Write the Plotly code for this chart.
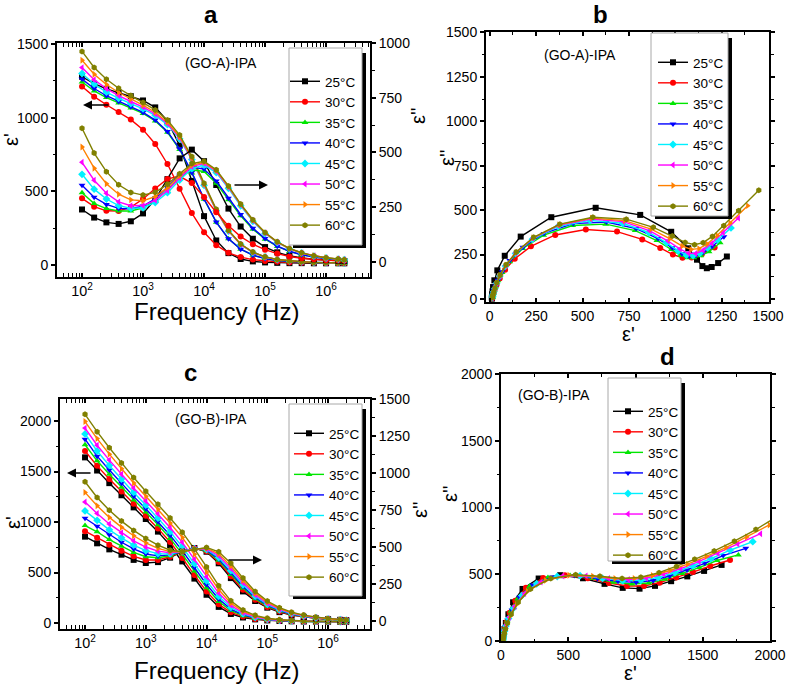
import plotly.graph_objects as go

W, H = 787, 684
FONT = "Liberation Sans, Arial, sans-serif"

FREQ = [100, 158, 251, 398, 631, 1000, 1585, 2512, 3981, 6310, 10000, 15849, 25119,
        39811, 63096, 100000, 158489, 251189, 398107, 630957, 1000000, 1584893, 1995262]

TEMP_LABELS = ["25°C", "30°C", "35°C", "40°C", "45°C", "50°C", "55°C", "60°C"]
COLORS = ["#000000", "#FF0000", "#00E600", "#0000FF", "#00F0FF", "#FF00FF", "#FF8000", "#808000"]
SYMBOLS = ["square", "circle", "triangle-up", "triangle-down", "diamond",
           "triangle-left", "triangle-right", "hexagon"]

# ---- (GO-A)-IPA : real permittivity eps' ----
A1_25 = [1278, 1231, 1196, 1170, 1146, 1117, 1070, 978, 811, 571, 332, 167, 81, 41, 25, 18, 15, 13, 13, 12, 12, 12, 12]
A1_30 = [1212, 1143, 1088, 1039, 987, 919, 822, 686, 518, 353, 222, 135, 83, 54, 37, 27, 22, 18, 16, 15, 14, 13, 13]
A1_35 = [1242, 1182, 1137, 1100, 1066, 1029, 978, 901, 784, 625, 447, 291, 178, 108, 67, 44, 31, 24, 20, 17, 15, 14, 14]
A1_40 = [1262, 1198, 1149, 1110, 1075, 1036, 984, 907, 789, 629, 450, 292, 179, 108, 67, 44, 31, 24, 20, 17, 15, 14, 14]
A1_45 = [1300, 1228, 1174, 1132, 1096, 1060, 1016, 953, 857, 716, 541, 368, 230, 139, 85, 55, 37, 28, 22, 18, 16, 15, 14]
A1_50 = [1340, 1258, 1197, 1150, 1110, 1072, 1026, 961, 863, 721, 545, 370, 232, 140, 86, 55, 37, 28, 22, 18, 16, 15, 14]
A1_55 = [1390, 1295, 1225, 1171, 1127, 1085, 1037, 970, 870, 727, 549, 374, 234, 142, 87, 55, 38, 28, 22, 18, 16, 15, 14]
A1_60 = [1450, 1341, 1261, 1200, 1150, 1104, 1053, 984, 882, 736, 556, 378, 237, 143, 88, 56, 38, 28, 22, 18, 16, 14, 14]

# ---- (GO-A)-IPA : imaginary permittivity eps'' ----
A2_25 = [239, 202, 180, 173, 185, 221, 285, 378, 473, 513, 460, 351, 243, 161, 105, 67, 43, 27, 17, 11, 7, 4, 3]
A2_30 = [290, 252, 233, 232, 250, 287, 335, 379, 391, 360, 296, 226, 164, 115, 80, 55, 37, 24, 16, 11, 7, 5, 4]
A2_35 = [316, 266, 243, 232, 232, 246, 279, 329, 385, 421, 413, 359, 284, 210, 149, 103, 70, 47, 31, 21, 14, 9, 7]
A2_40 = [350, 295, 262, 244, 241, 255, 288, 340, 396, 433, 424, 369, 291, 216, 153, 106, 71, 48, 32, 21, 14, 9, 7]
A2_45 = [400, 332, 287, 257, 244, 247, 271, 316, 374, 426, 442, 408, 336, 256, 185, 129, 88, 59, 40, 26, 17, 12, 9]
A2_50 = [455, 373, 313, 274, 256, 257, 281, 326, 383, 435, 450, 414, 341, 260, 188, 131, 89, 60, 40, 27, 17, 12, 9]
A2_55 = [525, 428, 357, 309, 283, 279, 298, 339, 393, 441, 455, 418, 344, 262, 190, 133, 90, 60, 40, 27, 18, 12, 9]
A2_60 = [611, 497, 412, 352, 317, 305, 318, 354, 403, 449, 460, 421, 347, 264, 192, 134, 91, 61, 41, 27, 18, 12, 9]

# ---- (GO-B)-IPA : real permittivity eps' ----
B1_25 = [1640, 1510, 1385, 1265, 1145, 1030, 905, 770, 610, 440, 280, 160, 90, 55, 36, 26, 20, 17, 15, 14, 13, 12, 12]
B1_30 = [1703, 1556, 1427, 1303, 1180, 1063, 937, 802, 645, 475, 313, 185, 106, 64, 41, 29, 22, 18, 16, 14, 13, 12, 12]
B1_35 = [1765, 1606, 1473, 1345, 1219, 1099, 973, 838, 683, 514, 349, 213, 123, 73, 46, 32, 23, 19, 16, 15, 14, 13, 12]
B1_40 = [1820, 1652, 1515, 1383, 1254, 1132, 1005, 870, 717, 549, 382, 238, 138, 82, 51, 34, 25, 20, 17, 15, 14, 13, 12]
B1_45 = [1872, 1703, 1560, 1425, 1293, 1168, 1040, 905, 755, 588, 418, 265, 155, 92, 56, 37, 27, 21, 18, 16, 14, 13, 13]
B1_50 = [1930, 1760, 1613, 1473, 1337, 1209, 1081, 946, 799, 632, 459, 297, 175, 102, 62, 40, 28, 22, 18, 16, 14, 13, 13]
B1_55 = [1995, 1826, 1672, 1527, 1387, 1256, 1126, 991, 848, 682, 506, 332, 197, 115, 69, 44, 31, 24, 19, 16, 15, 14, 13]
B1_60 = [2066, 1895, 1735, 1585, 1440, 1305, 1175, 1040, 900, 735, 555, 370, 220, 128, 76, 48, 33, 25, 20, 17, 15, 14, 13]

# ---- (GO-B)-IPA : imaginary permittivity eps'' ----
B2_25 = [570, 525, 484, 448, 413, 392, 398, 428, 470, 493, 468, 390, 290, 200, 135, 90, 60, 40, 27, 18, 12, 8, 6]
B2_30 = [607, 562, 516, 475, 437, 412, 412, 434, 470, 492, 471, 399, 302, 211, 143, 95, 64, 42, 29, 19, 12, 8, 6]
B2_35 = [645, 603, 550, 505, 463, 434, 427, 441, 470, 491, 475, 410, 315, 223, 151, 101, 68, 45, 30, 20, 13, 8, 6]
B2_40 = [694, 640, 582, 532, 487, 453, 440, 447, 469, 490, 479, 419, 327, 233, 159, 107, 71, 47, 32, 21, 13, 8, 6]
B2_45 = [744, 680, 616, 562, 513, 475, 455, 453, 469, 489, 483, 429, 340, 245, 168, 113, 75, 50, 34, 22, 14, 9, 6]
B2_50 = [804, 727, 656, 596, 542, 500, 472, 461, 469, 488, 487, 441, 355, 259, 177, 119, 80, 53, 35, 23, 15, 9, 6]
B2_55 = [869, 779, 700, 634, 576, 528, 491, 469, 468, 486, 492, 454, 372, 274, 188, 127, 85, 56, 38, 25, 15, 9, 6]
B2_60 = [941, 835, 748, 675, 612, 558, 512, 478, 468, 485, 497, 468, 390, 290, 200, 135, 90, 60, 40, 26, 16, 9, 6]

A_EPS1 = [A1_25, A1_30, A1_35, A1_40, A1_45, A1_50, A1_55, A1_60]
A_EPS2 = [A2_25, A2_30, A2_35, A2_40, A2_45, A2_50, A2_55, A2_60]
B_EPS1 = [B1_25, B1_30, B1_35, B1_40, B1_45, B1_50, B1_55, B1_60]
B_EPS2 = [B2_25, B2_30, B2_35, B2_40, B2_45, B2_50, B2_55, B2_60]


def px(xp):
    return xp / W


def py(yp):
    return 1 - yp / H


fig = go.Figure()


def add_series(xs, ys, i, xa, ya, legend, show):
    fig.add_trace(go.Scatter(
        x=xs, y=ys, mode="lines+markers", xaxis=xa, yaxis=ya,
        name=TEMP_LABELS[i], legend=legend, showlegend=show,
        line=dict(color=COLORS[i], width=1.4),
        marker=dict(symbol=SYMBOLS[i], size=6, color=COLORS[i], line=dict(width=0)),
    ))


for i in range(8):
    add_series(FREQ, A_EPS1[i], i, "x", "y", "legend", True)
for i in range(8):
    add_series(FREQ, A_EPS2[i], i, "x", "y2", "legend", False)
for i in range(8):
    add_series(A_EPS1[i], A_EPS2[i], i, "x2", "y3", "legend2", True)
for i in range(8):
    add_series(FREQ, B_EPS1[i], i, "x3", "y4", "legend3", True)
for i in range(8):
    add_series(FREQ, B_EPS2[i], i, "x3", "y5", "legend3", False)
for i in range(8):
    add_series(B_EPS1[i], B_EPS2[i], i, "x4", "y6", "legend4", True)

tickfont = dict(family=FONT, size=14, color="black")


def ax(**kw):
    d = dict(showline=True, linecolor="black", linewidth=2, showgrid=False, zeroline=False,
             ticks="outside", ticklen=4, tickwidth=1.5, tickcolor="black", tickfont=tickfont,
             automargin=False)
    d.update(kw)
    return d


def minor(dt, side="outside"):
    return dict(dtick=dt, ticks=side, ticklen=2.5, tickwidth=1, tickcolor="black", showgrid=False)


logx = dict(type="log", dtick=1, exponentformat="power", showexponent="all",
            ticks="inside", mirror="allticks",
            tickfont=dict(family=FONT, size=11.5, color="black"),
            minor=minor("D1", "inside"))

fig.update_layout(
    width=W, height=H, margin=dict(l=0, r=0, t=0, b=0, autoexpand=False),
    paper_bgcolor="white", plot_bgcolor="white",
    xaxis=ax(domain=[px(57), px(370)], anchor="y", range=[1.59, 6.72], **logx),
    yaxis=ax(domain=[py(277), py(43)], anchor="x", range=[-81, 1507], tick0=0, dtick=500,
             minor=minor(250)),
    yaxis2=ax(overlaying="y", side="right", anchor="x", range=[-70, 1001], tick0=0, dtick=250,
              minor=minor(125)),
    xaxis2=ax(domain=[px(486), px(769)], anchor="y3", range=[-20, 1505], tick0=0, dtick=250,
              mirror="allticks", ticks="inside", minor=minor(125, "inside")),
    yaxis3=ax(domain=[py(302), py(32)], anchor="x2", range=[-17, 1502], tick0=0, dtick=250,
              mirror="allticks", minor=minor(125)),
    xaxis3=ax(domain=[px(60), px(370)], anchor="y4", range=[1.588, 6.69], **logx),
    yaxis4=ax(domain=[py(629), py(399)], anchor="x3", range=[-59, 2218], tick0=0, dtick=500,
              minor=minor(250)),
    yaxis5=ax(overlaying="y4", side="right", anchor="x3", range=[-54, 1500], tick0=0, dtick=250,
              minor=minor(125)),
    xaxis4=ax(domain=[px(501), px(770)], anchor="y6", range=[0, 2000], tick0=0, dtick=500,
              mirror="allticks", ticks="inside", minor=minor(250, "inside")),
    yaxis6=ax(domain=[py(641), py(374)], anchor="x4", range=[0, 2000], tick0=0, dtick=500,
              mirror="allticks", minor=minor(250)),
)

leg_common = dict(xanchor="left", yanchor="top", bgcolor="rgba(0,0,0,0)", borderwidth=0,
                  font=dict(family=FONT, size=13.5, color="black"), itemwidth=30,
                  tracegroupgap=0, orientation="v")
fig.update_layout(
    legend=dict(x=px(285), y=py(66), **leg_common),
    legend2=dict(x=px(653), y=py(47), **leg_common),
    legend3=dict(x=px(289), y=py(418), **leg_common),
    legend4=dict(x=px(608), y=py(396), **leg_common),
)


def rect(x0, y0, x1, y1, **kw):
    return dict(type="rect", xref="paper", yref="paper", x0=px(x0), x1=px(x1),
                y0=py(y1), y1=py(y0), layer="above", **kw)


shapes = []
for (bx0, by0, bx1, by1) in [(289, 48, 362, 245), (651, 33, 728, 216),
                             (289, 404, 362, 596), (608, 378, 681, 561)]:
    shapes.append(rect(bx0 + 4, by0 + 5, bx1 + 4, by1 + 3, fillcolor="black", line=dict(width=0)))
    shapes.append(rect(bx0, by0, bx1, by1, fillcolor="white", line=dict(color="#a8a8a8", width=1)))
fig.update_layout(shapes=shapes)

ann = []


def text(x, y, s, size, angle=0, bold=False):
    ann.append(dict(x=px(x), y=py(y), xref="paper", yref="paper", text=("<b>%s</b>" % s) if bold else s,
                    showarrow=False, textangle=angle, xanchor="center", yanchor="middle",
                    font=dict(family=FONT, size=size, color="black")))


def arrow(hx, hy, tx, ty):
    ann.append(dict(x=px(hx), y=py(hy), xref="paper", yref="paper", text="", showarrow=True,
                    ax=tx - hx, ay=ty - hy, axref="pixel", ayref="pixel", arrowhead=2,
                    arrowsize=1.2, arrowwidth=1.5, arrowcolor="black", standoff=0))


text(211, 15, "a", 24, bold=True)
text(600, 14, "b", 24, bold=True)
text(190, 372, "c", 24, bold=True)
text(667, 357, "d", 24, bold=True)

text(11, 140, "ε'", 20, -90)
text(418, 115, "ε''", 20, -90)
text(216, 311, "Frequency (Hz)", 24)
text(13, 523, "ε'", 20, -90)
text(420, 510, "ε''", 20, -90)
text(216, 670, "Frequency (Hz)", 24)
text(447, 157, "ε''", 20, -90)
text(628, 334, "ε'", 20)
text(450, 493, "ε''", 20, -90)
text(630, 673, "ε'", 20)

text(221, 63, "(GO-A)-IPA", 14)
text(580, 55, "(GO-A)-IPA", 14)
text(211, 419, "(GO-B)-IPA", 14)
text(554, 395, "(GO-B)-IPA", 14)

arrow(83, 105, 110, 105)
arrow(268, 185, 233, 185)
arrow(67, 473, 92, 473)
arrow(262, 560, 227, 560)

fig.update_layout(annotations=ann)

fig.write_html("out.html", config={"displayModeBar": False},
               post_script="document.body.style.margin='0';document.body.style.overflow='hidden';")
